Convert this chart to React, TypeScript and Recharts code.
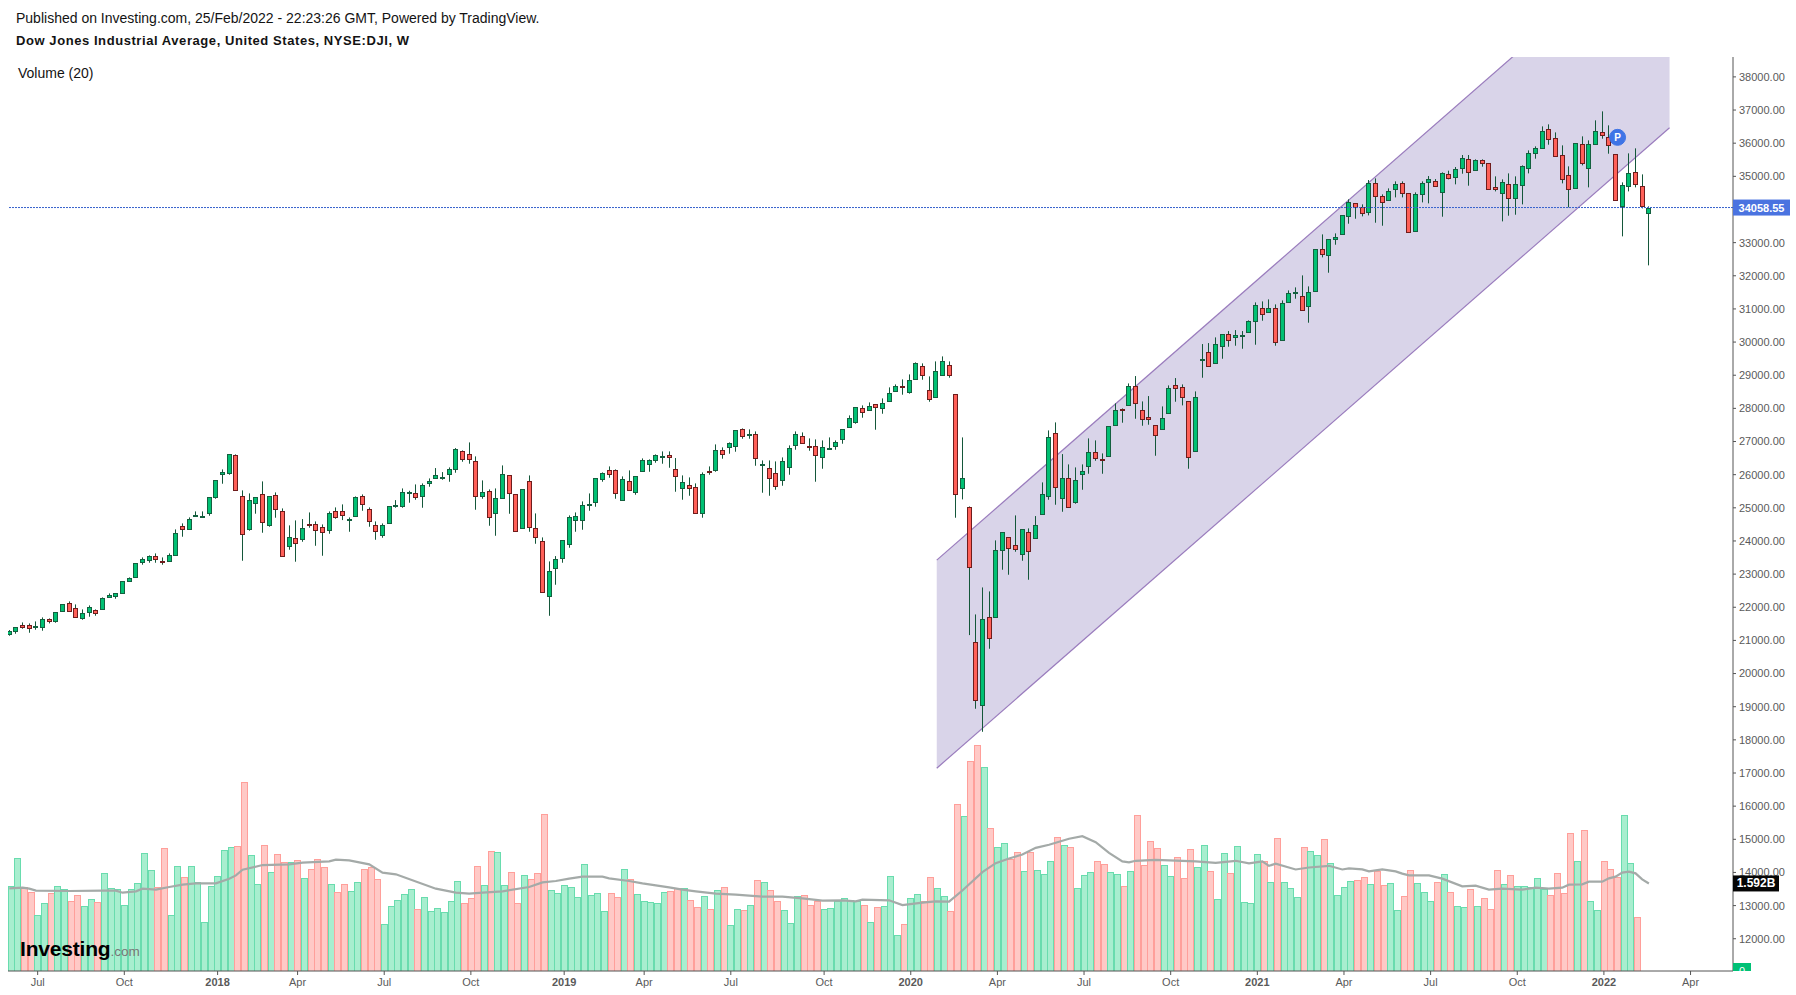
import React from "react";
import {
  Area,
  Bar,
  ComposedChart,
  Line,
  ReferenceDot,
  ReferenceLine,
  XAxis,
  YAxis,
} from "recharts";

const FONT = '"Liberation Sans", Arial, sans-serif';

// weekly candles, DJI
const high = [
  21312,21392,21543,21513,21573,21694,21664,21845,22086,22177,
  22086,21935,22056,21935,22297,22418,22418,22780,22901,23323,
  23504,23564,23625,23504,23625,24349,24530,24711,24892,24892,
  25314,25827,26159,26612,26612,25526,25435,25314,25797,25344,
  25465,24982,24470,24620,24660,24861,24590,24499,24891,25012,
  25103,24710,25344,25404,25012,24590,24529,25042,25233,25585,
  25515,25706,25736,25887,26199,26078,26219,26802,26732,26973,
  26551,25827,25555,25585,26279,25977,25404,25555,25977,24831,
  24107,23383,23544,24016,24771,24861,25193,25434,25887,26068,
  26249,26159,25948,26129,25948,26491,26461,26611,26702,26702,
  26501,25978,25917,25737,26068,26249,26913,26823,26973,27336,
  27396,27366,27305,26430,26430,26400,26521,26883,27305,27275,
  27094,27064,27034,27124,27034,27366,27788,28029,28090,28180,
  28120,28301,28633,28723,28874,29025,29387,29357,28965,29417,
  29568,29417,28422,27124,25042,21784,22598,22478,24017,24258,
  24107,24771,24348,24379,24751,25767,27335,27577,26621,26310,
  26219,26310,27094,27034,26641,27456,28150,27999,28753,28975,
  28210,28371,27486,28059,28693,28914,28723,28210,28512,29940,
  29970,30141,30232,30332,30362,30332,30654,31197,31227,31288,
  31137,31257,31559,31650,32012,31680,32796,33249,33098,33279,
  33822,34305,34184,34154,34888,34938,34456,34637,34848,34848,
  34486,34516,34848,35009,34918,35120,35170,35281,35643,35643,
  35512,35512,35391,34999,34908,35089,34999,35331,35783,35904,
  36507,36568,36326,35934,35301,35995,36206,36085,36689,36960,
  36538,35663,34818,35693,35844,35059,34094,
];

const low = [
  21141,21201,21352,21231,21322,21292,21513,21533,21875,21875,
  21694,21623,21714,21744,21935,22297,22257,22418,22780,22901,
  23283,23343,23343,23283,23383,23564,24128,24349,24731,24711,
  24761,25274,25727,25998,25526,23403,24309,24822,24248,24429,
  24701,23534,23735,23374,23976,24399,23855,23554,24218,24670,
  24630,24278,24740,24911,24429,24036,24097,24529,25002,25002,
  25153,25243,25002,25636,25887,25847,25786,26058,26390,26330,
  24942,25274,24459,24157,25284,24821,24288,24378,24278,23916,
  22448,21743,22679,23343,23795,24278,24338,24911,25032,25787,
  25907,25274,25224,25525,25394,26099,26088,26360,26330,26209,
  25485,25244,25364,24831,24701,25998,26088,26481,26632,26692,
  27084,27084,26269,25455,25364,25545,25666,25998,26752,26943,
  26722,25787,26179,26772,26752,26933,27426,27537,27718,27939,
  27356,27838,28210,28512,28412,28444,28874,28864,28200,28331,
  28995,28925,24701,25254,21160,18938,18244,20748,21693,23132,
  22981,23675,23403,22830,24077,24801,25243,25093,24881,25012,
  25123,25545,26028,26420,26028,26551,27486,27567,28090,27687,
  27476,27506,26571,27366,27848,28200,28090,26179,26702,28924,
  29266,29357,29497,29859,29890,29799,30292,29920,30644,30895,
  29890,30051,31197,31308,30956,30584,31529,32555,32092,32937,
  33249,33571,33721,33792,33822,33601,33510,34275,34365,34365,
  33309,33339,34214,34184,34697,33782,34908,34758,35079,34717,
  35180,35291,34607,34546,33641,33812,33842,34154,35089,35532,
  35844,35954,35602,34788,34064,34637,35331,34667,35964,36135,
  35683,34275,33189,34546,34667,34034,32314,
];

const open = [
  21201,21272,21453,21453,21392,21392,21634,21573,21875,22116,
  21965,21664,21845,21905,21935,22297,22327,22418,22780,22901,
  23353,23414,23534,23383,23383,23564,24439,24349,24741,24711,
  24832,25314,26008,26038,26582,25344,24349,25133,25405,24470,
  25375,24892,23836,24078,24047,24499,24499,24409,24318,24891,
  24891,24620,24740,25344,24952,24469,24167,24529,25042,25042,
  25434,25434,25344,25736,25887,25907,26008,26159,26702,26611,
  26400,25344,25495,24831,25284,25977,25404,24378,25797,24378,
  23986,22327,23171,23473,23896,24620,24620,25072,25163,25857,
  26129,26129,25224,25797,25485,26099,26310,26430,26521,26581,
  26159,25586,25676,25616,24831,26109,26129,26732,26823,26853,
  27366,27185,27215,26280,26189,26038,25827,26219,26883,27155,
  26853,26853,26521,26772,26853,27064,27426,27577,27999,27939,
  28120,27999,28210,28512,28663,28482,28874,29266,28542,28331,
  28995,29297,28422,25586,25012,20939,19038,21693,21693,23715,
  24107,23866,23594,24258,24077,24801,25344,27245,25284,25887,
  25163,26008,26249,26672,26460,26551,27486,27969,28090,28663,
  27939,27728,27486,27366,27848,28693,28633,28210,26702,29467,
  29689,29357,29870,30232,30141,30171,30292,30624,31016,30895,
  31016,30051,31197,31469,31378,31076,31529,32796,32615,33098,
  33249,33792,34184,34063,33912,34787,34395,34275,34606,34787,
  34486,33339,34456,34818,34848,34536,35059,34969,35240,35512,
  35180,35482,35391,34667,34486,34758,34335,34727,35240,35693,
  35844,36417,36145,35633,35029,34637,35964,35240,35964,36326,
  36176,35663,34094,34697,35120,34697,33883,
];

const close = [
  21272,21392,21392,21362,21422,21634,21573,21845,22086,21875,
  21694,21815,21996,21815,22267,22358,22418,22780,22870,23323,
  23444,23534,23444,23353,23564,24228,24349,24651,24771,24741,
  25314,25827,26069,26612,25526,24198,25224,25314,24560,25344,
  24952,23534,24108,23927,24378,24469,24318,24258,24831,24710,
  24771,24650,25314,25103,24590,24288,24469,25042,25072,25465,
  25465,25314,25676,25797,25977,25917,26159,26762,26460,26460,
  25344,25465,24710,25284,26008,25434,24288,25555,24409,24107,
  22448,23081,23443,24016,24710,24740,25072,25103,25887,26038,
  26028,25455,25857,25525,25948,26430,26430,26581,26551,26521,
  25948,25767,25586,24831,26008,26088,26732,26611,26943,27336,
  27155,27215,26491,26310,25887,25646,26400,26792,27215,26943,
  26823,26581,26823,26792,26973,27366,27698,28029,27879,28060,
  28029,28150,28452,28663,28633,28844,29357,28995,28271,29116,
  29417,28995,25405,25887,23202,19189,21633,21060,23715,24258,
  23775,23745,24348,23685,24469,25404,27124,25616,25887,25012,
  25827,26098,26672,26491,26430,27456,27939,27939,28663,28150,
  27667,27667,27184,27697,28603,28603,28331,26521,28331,29487,
  29266,29930,30232,30051,30201,30201,30624,31107,30835,31016,
  29990,31167,31469,31499,30956,31499,32796,32645,33098,33158,
  33822,34214,34063,33882,34787,34395,34214,34546,34757,34486,
  33309,34456,34787,34918,34697,35089,34939,35210,35542,35120,
  35482,35391,34607,34607,34818,34335,34758,35301,35693,35844,
  36357,36115,35602,34908,34607,35995,35391,35964,36357,36236,
  35934,34275,34727,35089,34758,34094,34058.55,
];

// volume in billions, two weeks short of the candles
const volume = [
  1.552,2.061,1.527,1.442,1.024,1.242,1.424,1.552,1.497,1.279,
  1.388,1.188,1.315,1.261,1.788,1.515,1.497,1.206,1.497,1.606,
  2.152,1.842,1.533,2.242,1.024,1.915,1.715,1.915,1.624,0.897,
  1.552,1.733,2.206,2.261,2.279,3.442,2.115,1.588,2.297,1.806,
  2.133,1.988,1.988,2.024,1.697,1.861,2.042,1.897,1.588,1.442,
  1.588,1.461,1.624,1.861,1.897,1.679,0.861,1.188,1.297,1.406,
  1.497,1.133,1.352,1.097,1.152,1.079,1.279,1.642,1.242,1.333,
  1.915,1.570,2.188,2.170,1.570,1.806,1.242,1.752,1.679,1.788,
  2.861,1.479,1.424,1.570,1.533,1.352,1.952,1.388,1.424,1.097,
  1.424,1.352,1.861,1.679,1.406,1.279,1.261,1.242,1.442,1.461,
  1.515,1.515,1.297,1.170,1.370,1.133,1.479,1.533,0.842,1.133,
  1.115,1.206,1.661,1.624,1.479,1.279,1.115,0.879,1.370,1.388,
  1.206,1.279,1.133,1.152,1.279,1.333,1.297,1.279,1.206,0.897,
  1.170,1.188,1.733,0.661,0.861,1.333,1.406,1.279,1.715,1.515,
  1.370,1.097,3.040,2.822,3.822,4.113,3.713,2.604,2.258,2.331,
  2.040,2.167,1.822,2.167,1.840,1.768,2.004,2.440,2.295,2.258,
  1.513,1.749,1.804,2.004,1.949,1.804,1.768,1.549,1.822,2.840,
  1.931,2.368,2.240,1.931,1.731,2.076,1.695,2.222,1.895,2.295,
  1.822,1.313,2.149,1.785,2.276,1.258,1.240,2.131,2.004,1.622,
  2.422,1.622,1.513,1.349,2.258,2.185,2.113,2.404,1.967,1.385,
  1.531,1.640,1.658,1.713,1.588,1.824,1.570,1.606,1.115,1.370,
  1.842,1.606,1.442,1.279,1.624,1.770,1.442,1.188,1.170,1.497,
  1.188,1.333,1.133,1.842,1.588,1.752,1.552,1.552,1.533,1.697,
  1.497,1.388,1.788,1.424,2.515,2.006,2.570,1.279,1.115,2.006,
  1.861,1.715,2.842,1.970,0.988,
];

// 20 week volume average, read at the weeks listed
const maWeek = [
  0,2,3,4,9,14,16,17,19,20,22,24,26,28,31,33,34,35,38,42,44,48,49,51,54,56,58,64,67,69,71,
  74,78,80,82,84,86,89,90,93,95,97,99,101,103,106,109,113,116,119,122,125,127,128,132,134,137,139,141,
  143,146,148,150,152,154,156,159,161,163,165,167,168,169,172,174,178,181,184,186,188,189,190,193,195,198,200,201,
  203,204,206,208,209,210,213,215,218,220,222,224,227,229,231,233,234,236,237,239,240,241,242,243,244,245,246,
];
const maValue = [
  1.503,1.515,1.497,1.461,1.455,1.461,1.461,1.424,1.448,1.497,1.479,1.527,1.570,1.594,1.594,1.679,1.739,1.842,1.927,1.939,1.970,1.994,2.024,2.012,1.939,1.788,1.758,1.497,1.424,1.406,1.424,
  1.448,1.527,1.612,1.636,1.679,1.715,1.715,1.685,1.636,1.594,1.558,1.521,1.479,1.448,1.406,1.388,1.352,1.352,1.321,1.279,1.285,1.267,1.297,1.285,1.2,1.242,1.267,1.261,
  1.464,1.798,1.961,2.046,2.119,2.240,2.295,2.404,2.452,2.343,2.149,1.992,1.974,2.004,2.022,2.010,1.992,1.968,2.004,1.956,1.992,1.913,1.950,1.846,1.882,1.913,1.846,1.865,
  1.848,1.812,1.848,1.812,1.770,1.739,1.739,1.679,1.539,1.552,1.479,1.497,1.479,1.515,1.497,1.515,1.570,1.576,1.624,1.624,1.685,1.715,1.788,1.806,1.776,1.667,1.592,
];

// parallel channel drawn on the price pane
const channelWeek = [139.15, 249.1];
const channelLower = [17145, 36466];
const channelUpper = [23421, 42742];

const priceTicks = [
  12000,13000,14000,15000,16000,17000,18000,19000,20000,21000,22000,23000,24000,
  25000,26000,27000,28000,29000,30000,31000,32000,33000,34000,35000,36000,37000,38000,
];
const timeTicks = [4,17,31,43,56,69,83,95,108,122,135,148,161,174,187,200,213,226,239,252];
const timeLabels = [
  "Jul","Oct","2018","Apr","Jul","Oct","2019","Apr","Jul","Oct","2020",
  "Apr","Jul","Oct","2021","Apr","Jul","Oct","2022","Apr",
];

const LAST_PRICE = 34058.55;
const LAST_MA = 1.592;

const rows = high.map((h, i) => {
  const w = maWeek.indexOf(i);
  return {
    i,
    range: [low[i], h],
    open: open[i],
    close: close[i],
    high: h,
    low: low[i],
    volume: volume[i] ?? null,
    up: close[i] >= open[i],
    ma: w >= 0 ? maValue[w] : null,
  };
});

const channelRows = channelWeek.map((w, k) => ({
  i: w,
  channel: [channelLower[k], channelUpper[k]],
}));

function Candle(props: any) {
  const { x, y, width, height, payload } = props;
  if (!payload || !height) return <g />;
  const perUnit = height / (payload.high - payload.low);
  const yOf = (v: number) => y + (payload.high - v) * perUnit;
  const cx = Math.floor(x + width / 2) + 0.5;
  const top = Math.round(yOf(Math.max(payload.open, payload.close))) + 0.5;
  const bottom = Math.round(yOf(Math.min(payload.open, payload.close))) + 0.5;
  return (
    <g>
      <line x1={cx} x2={cx} y1={y} y2={y + height} stroke="#14573a" strokeWidth={1} />
      <rect
        x={cx - 2}
        y={top}
        width={4}
        height={Math.max(bottom - top, 1)}
        fill={payload.up ? "#00c073" : "#ff6058"}
        stroke={payload.up ? "#14603f" : "#6f1c1c"}
        strokeWidth={1}
      />
    </g>
  );
}

function VolumeBar(props: any) {
  const { x, y, width, height, payload } = props;
  if (!payload || !height) return <g />;
  const left = Math.round(x + width / 2 - 3) + 0.5;
  return (
    <rect
      x={left}
      y={Math.round(y) + 0.5}
      width={6}
      height={height}
      fill={payload.up ? "#a8eecf" : "#ffc9c6"}
      stroke={payload.up ? "#69dcae" : "#ff9f9a"}
      strokeWidth={1}
    />
  );
}

function TimeTick(props: any) {
  const { x, y, payload } = props;
  const label = timeLabels[timeTicks.indexOf(payload.value)];
  const isYear = label.length === 4;
  return (
    <text
      x={x}
      y={y + 9}
      textAnchor="middle"
      fontFamily={FONT}
      fontSize={11}
      fontWeight={isYear ? 700 : 400}
      fill="#5a5a5a"
    >
      {label}
    </text>
  );
}

function AxisTag(fill: string, text: string, width: number, fontSize: number) {
  return (props: any) => {
    const vb = props.viewBox;
    const left = vb.x + vb.width;
    return (
      <g>
        <rect x={left} y={vb.y - 8} width={width} height={16} fill={fill} />
        <text
          x={left + width / 2}
          y={vb.y + 4}
          textAnchor="middle"
          fontFamily={FONT}
          fontSize={fontSize}
          fontWeight={700}
          fill="#ffffff"
        >
          {text}
        </text>
      </g>
    );
  };
}

function ZeroTag(props: any) {
  const vb = props.viewBox;
  const left = vb.x + vb.width;
  return (
    <svg x={left} y={vb.y - 8} width={18} height={8}>
      <rect x={0} y={0} width={18} height={8} fill="#00c176" />
      <text x={9} y={12} textAnchor="middle" fontFamily={FONT} fontSize={11} fill="#ffffff">
        0
      </text>
    </svg>
  );
}

const textStyle: React.CSSProperties = {
  position: "absolute",
  fontFamily: FONT,
  whiteSpace: "nowrap",
  color: "#131313",
  lineHeight: "16px",
};

export default function App() {
  return (
    <div style={{ position: "absolute", left: 0, top: 0, width: 1796, height: 995, background: "#fff" }}>
      <ComposedChart
        width={1796}
        height={995}
        data={rows}
        margin={{ top: 57, right: 0, bottom: 0, left: 8 }}
      >
        <XAxis
          xAxisId="candle"
          dataKey="i"
          type="number"
          domain={[-0.195, 258.62]}
          height={0}
          hide
          allowDataOverflow
        />
        <XAxis
          xAxisId="time"
          dataKey="i"
          type="number"
          domain={[-0.45, 258.37]}
          ticks={timeTicks}
          interval={0}
          tick={<TimeTick />}
          tickSize={4}
          height={24}
          stroke="#555555"
          allowDataOverflow
        />
        <YAxis
          yAxisId="price"
          orientation="right"
          domain={[11027, 38600]}
          ticks={priceTicks}
          interval={0}
          tickFormatter={(v: number) => v.toFixed(2)}
          tick={{ fontSize: 11, fontFamily: FONT, fill: "#5a5a5a" }}
          tickSize={3}
          tickMargin={3}
          width={63}
          stroke="#555555"
          allowDataOverflow
        />
        <YAxis yAxisId="vol" domain={[0, 16.62]} hide allowDataOverflow />

        <Area
          data={channelRows}
          xAxisId="candle"
          yAxisId="price"
          dataKey="channel"
          type="linear"
          fill="#d9d4e9"
          fillOpacity={1}
          stroke="#9a7cbd"
          strokeWidth={1.2}
          isAnimationActive={false}
          dot={false}
          activeDot={false}
        />
        <Bar
          xAxisId="time"
          yAxisId="vol"
          dataKey="volume"
          barSize={6}
          shape={<VolumeBar />}
          isAnimationActive={false}
        />
        <Bar
          xAxisId="candle"
          yAxisId="price"
          dataKey="range"
          barSize={5}
          shape={<Candle />}
          isAnimationActive={false}
        />
        <Line
          xAxisId="candle"
          yAxisId="vol"
          dataKey="ma"
          type="linear"
          connectNulls
          dot={false}
          activeDot={false}
          stroke="#a4aaa8"
          strokeWidth={2.2}
          isAnimationActive={false}
        />
        <ReferenceLine
          xAxisId="candle"
          yAxisId="price"
          y={LAST_PRICE}
          stroke="#3560cc"
          strokeWidth={1}
          strokeDasharray="2 1"
          zIndex={2000}
          label={AxisTag("#4a73e0", "34058.55", 57, 11)}
        />
        <ReferenceLine
          xAxisId="candle"
          yAxisId="vol"
          y={LAST_MA}
          stroke="none"
          zIndex={2000}
          label={AxisTag("#050505", "1.592B", 46, 12)}
        />
        <ReferenceLine
          xAxisId="candle"
          yAxisId="vol"
          y={0}
          stroke="none"
          zIndex={2000}
          label={ZeroTag}
        />
        <ReferenceDot
          xAxisId="candle"
          yAxisId="price"
          x={241.3}
          y={36176}
          r={8}
          fill="#3f74e6"
          stroke="#3f74e6"
          label={{ value: "P", position: "center", fill: "#ffffff", fontSize: 10, fontWeight: 700, fontFamily: FONT }}
        />
      </ComposedChart>

      <div style={{ ...textStyle, left: 16, top: 10, fontSize: 14 }}>
        Published on Investing.com, 25/Feb/2022 - 22:23:26 GMT, Powered by TradingView.
      </div>
      <div style={{ ...textStyle, left: 16, top: 33, fontSize: 13, fontWeight: 700, letterSpacing: 0.57 }}>
        Dow Jones Industrial Average, United States, NYSE:DJI, W
      </div>
      <div style={{ ...textStyle, left: 18, top: 65, fontSize: 14 }}>Volume (20)</div>
      <div style={{ ...textStyle, left: 20, top: 939, lineHeight: "20px", fontSize: 21, fontWeight: 700, letterSpacing: -0.2, color: "#000" }}>
        Investing
        <span style={{ fontSize: 13.5, fontWeight: 400, color: "#777", letterSpacing: 0 }}>.com</span>
      </div>
    </div>
  );
}
